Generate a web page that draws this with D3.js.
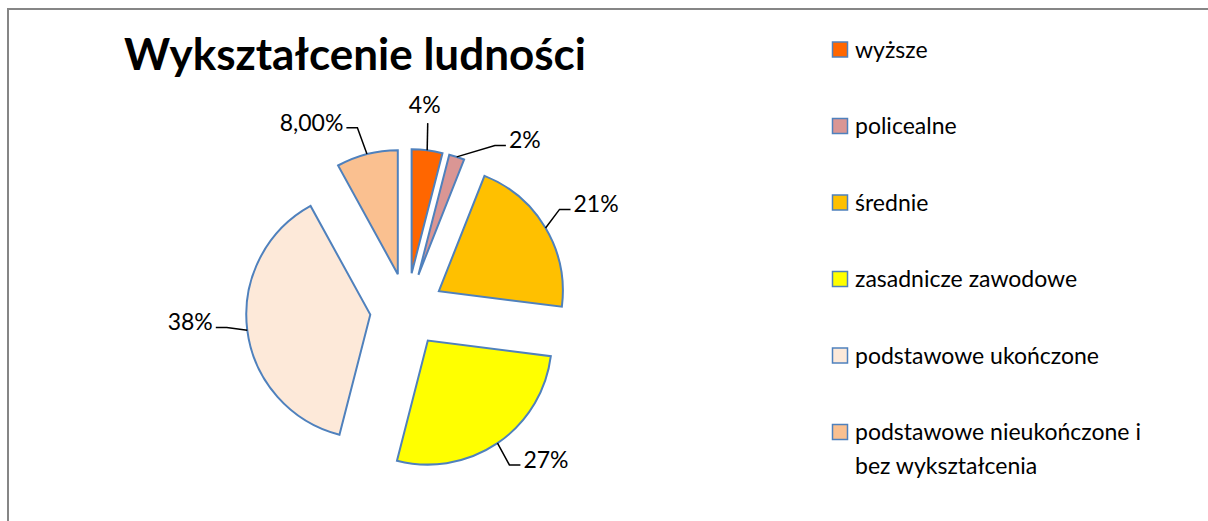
<!DOCTYPE html>
<html>
<head>
<meta charset="utf-8">
<script src="https://cdn.jsdelivr.net/npm/d3@7"></script>
<style>
  body { margin: 0; background: #fff; }
  text { font-family: Lato, "Liberation Sans", sans-serif; fill: #000; }
</style>
</head>
<body>
<svg width="1208" height="521"></svg>
<script>
// Data
const categories = ["wyższe", "policealne", "średnie", "zasadnicze zawodowe",
  "podstawowe ukończone", "podstawowe nieukończone i bez wykształcenia"];
const values = [4, 2, 21, 27, 38, 8];
const valueLabels = ["4%", "2%", "21%", "27%", "38%", "8,00%"];
const colors = ["#FF6600", "#DA9694", "#FFC000", "#FFFF00", "#FDE9D9", "#FAC090"];

// Layout
let svg = d3.select("svg");
let cx = 407, cy = 310;
let radius = 124;
let explode = 37;
let labelR = 192;
// small angle nudges (deg) so the label of the thin slice does not collide
let labelNudge = [-1, 13, -1, -2, 2, -4];
let strokeBlue = "#4F81BD";

// chart frame
svg.append("rect")
  .attr("x", 8).attr("y", 9)
  .attr("width", 1230).attr("height", 540)
  .attr("fill", "none")
  .attr("stroke", "#868686")
  .attr("stroke-width", 2);

// title
svg.append("text")
  .attr("x", 355).attr("y", 70)
  .attr("text-anchor", "middle")
  .style("font-size", "44px")
  .style("font-weight", "bold")
  .text("Wykształcenie ludności");

let pie = d3.pie().sort(null).value(d => d);
let arc = d3.arc().innerRadius(0).outerRadius(radius);
let arcs = pie(values);

function polar(a, d) {
  return [cx + d * Math.sin(a), cy - d * Math.cos(a)];
}

let slices = svg.append("g");
slices.selectAll("path")
  .data(arcs)
  .enter().append("path")
    .attr("d", arc)
    .attr("transform", d => {
      let m = (d.startAngle + d.endAngle) / 2;
      let p = polar(m, explode);
      return "translate(" + p[0] + "," + p[1] + ")";
    })
    .attr("fill", (d, i) => colors[i])
    .attr("stroke", strokeBlue)
    .attr("stroke-width", 2)
    .attr("stroke-linejoin", "miter");

// data labels with leader lines
let labels = svg.append("g");
arcs.forEach((d, i) => {
  let m = (d.startAngle + d.endAngle) / 2;
  let start = polar(m, explode + radius);
  let la = m + labelNudge[i] * Math.PI / 180;
  let end = polar(la, labelR);
  let s = Math.sin(la);
  let pts, tx, ty, anchor;
  if (Math.abs(s) < 0.15) {
    // near the top: straight line up, label above
    pts = [start, [end[0], end[1] + 4]];
    tx = end[0] - 3; ty = end[1] - 6; anchor = "middle";
  } else {
    let dir = s > 0 ? 1 : -1;
    let knee = [end[0] - dir * 11, end[1]];
    pts = [start, knee, end];
    tx = end[0] + dir * 3; ty = end[1] + 3; anchor = dir > 0 ? "start" : "end";
  }
  labels.append("path")
    .attr("d", d3.line()(pts))
    .attr("fill", "none")
    .attr("stroke", "#000")
    .attr("stroke-width", 1.5);
  labels.append("text")
    .attr("x", tx).attr("y", ty)
    .attr("text-anchor", anchor)
    .style("font-size", "23px")
    .text(valueLabels[i]);
});

// legend
let ly = d3.scaleLinear().domain([0, categories.length - 1]).range([49.5, 432]);
let legend = svg.append("g");
categories.forEach((c, i) => {
  let y = ly(i);
  legend.append("rect")
    .attr("x", 832.5).attr("y", y - 7.5)
    .attr("width", 15).attr("height", 15)
    .attr("fill", colors[i])
    .attr("stroke", strokeBlue)
    .attr("stroke-width", 1.5);
  let t = legend.append("text")
    .attr("x", 855).attr("y", y + 8)
    .style("font-size", "23px");
  // simple word wrap
  let words = c.split(" ");
  let line = [];
  let tspan = t.append("tspan").attr("x", 855);
  words.forEach(w => {
    line.push(w);
    tspan.text(line.join(" "));
    if (tspan.node().getComputedTextLength() > 320 && line.length > 1) {
      line.pop();
      tspan.text(line.join(" "));
      line = [w];
      tspan = t.append("tspan").attr("x", 855).attr("dy", 34).text(w);
    }
  });
});
</script>
</body>
</html>
